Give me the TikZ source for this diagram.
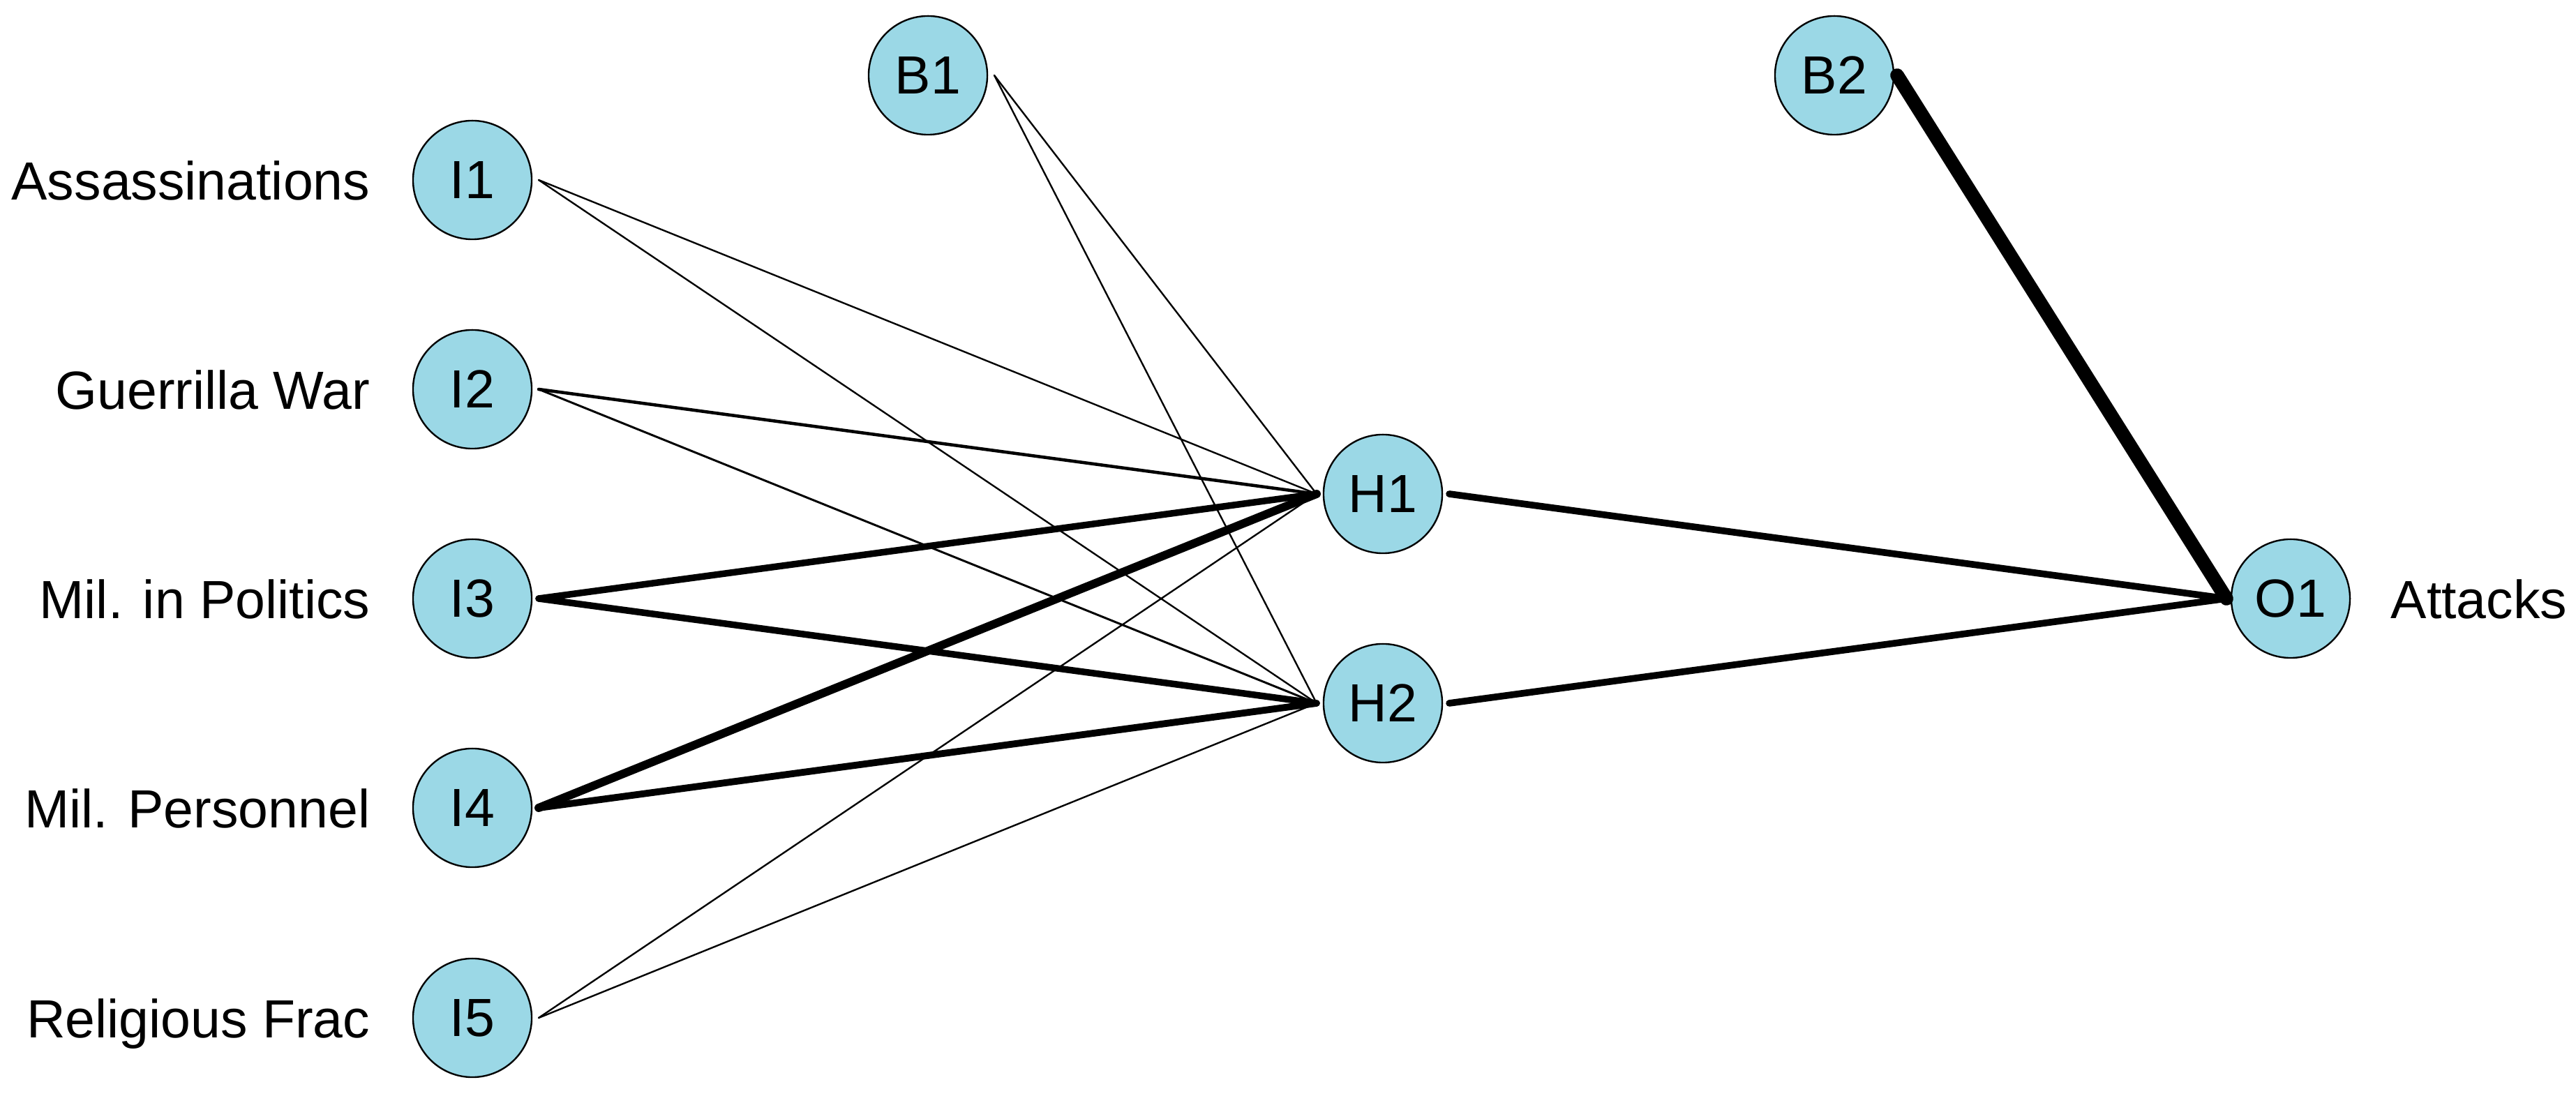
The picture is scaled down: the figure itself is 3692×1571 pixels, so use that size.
\documentclass[tikz,border=0pt]{standalone}
\usepackage{fontspec}
\setmainfont{Liberation Sans}
\definecolor{nodefill}{RGB}{155,216,230}
\begin{document}
\begin{tikzpicture}[x=0.01cm,y=-0.01cm,
  nn/.style={circle, draw=black, line width=0.68pt, fill=nodefill, minimum size=1.7cm, inner sep=0pt, font=\fontsize{21.9}{26}\selectfont},
  lbl/.style={inner sep=0pt, font=\fontsize{21.9}{26}\selectfont},
  wt/.style={line width=#1, line cap=round, draw=black}]
\useasboundingbox (0,0) rectangle (3692,1571);
% nodes
\node[nn] (I1) at (677,258) {I1};
\node[nn] (I2) at (677,558) {I2};
\node[nn] (I3) at (677,858) {I3};
\node[nn] (I4) at (677,1158) {I4};
\node[nn] (I5) at (677,1459) {I5};
\node[nn] (B1) at (1330,108) {B1};
\node[nn] (H1) at (1982,708) {H1};
\node[nn] (H2) at (1982,1008) {H2};
\node[nn] (B2) at (2629,108) {B2};
\node[nn] (O1) at (3283,858) {O1};
% labels
\node[lbl, anchor=base east] (L1) at (531,287) {Assassinations};
\node[lbl, anchor=base east] (L2) at (531,587) {Guerrilla War};
\node[lbl, anchor=base east] (L3) at (531,887) {Mil. in Politics};
\node[lbl, anchor=base east] (L4) at (531,1187) {Mil. Personnel};
\node[lbl, anchor=base east] (L5) at (531,1488) {Religious Frac};
\node[lbl, anchor=base west] (LO) at (3426,887) {Attacks};
% edges input -> hidden
\draw[wt=0.68pt] ([xshift=0.95cm]I1.center) -- ([xshift=-0.95cm]H1.center);
\draw[wt=0.68pt] ([xshift=0.95cm]I1.center) -- ([xshift=-0.95cm]H2.center);
\draw[wt=1.3pt]  ([xshift=0.95cm]I2.center) -- ([xshift=-0.95cm]H1.center);
\draw[wt=0.85pt] ([xshift=0.95cm]I2.center) -- ([xshift=-0.95cm]H2.center);
\draw[wt=2.7pt]  ([xshift=0.95cm]I3.center) -- ([xshift=-0.95cm]H1.center);
\draw[wt=2.7pt]  ([xshift=0.95cm]I3.center) -- ([xshift=-0.95cm]H2.center);
\draw[wt=3.4pt]  ([xshift=0.95cm]I4.center) -- ([xshift=-0.95cm]H1.center);
\draw[wt=2.8pt]  ([xshift=0.95cm]I4.center) -- ([xshift=-0.95cm]H2.center);
\draw[wt=0.68pt] ([xshift=0.95cm]I5.center) -- ([xshift=-0.95cm]H1.center);
\draw[wt=0.68pt] ([xshift=0.95cm]I5.center) -- ([xshift=-0.95cm]H2.center);
% bias 1
\draw[wt=0.68pt] ([xshift=0.95cm]B1.center) -- ([xshift=-0.95cm]H1.center);
\draw[wt=0.68pt] ([xshift=0.95cm]B1.center) -- ([xshift=-0.95cm]H2.center);
% hidden -> output
\draw[wt=2.75pt] ([xshift=0.95cm]H1.center) -- ([xshift=-0.92cm]O1.center);
\draw[wt=2.75pt] ([xshift=0.95cm]H2.center) -- ([xshift=-0.92cm]O1.center);
\draw[wt=5.6pt]  ([xshift=0.9cm]B2.center) -- ([xshift=-0.92cm]O1.center);
\end{tikzpicture}
\end{document}
